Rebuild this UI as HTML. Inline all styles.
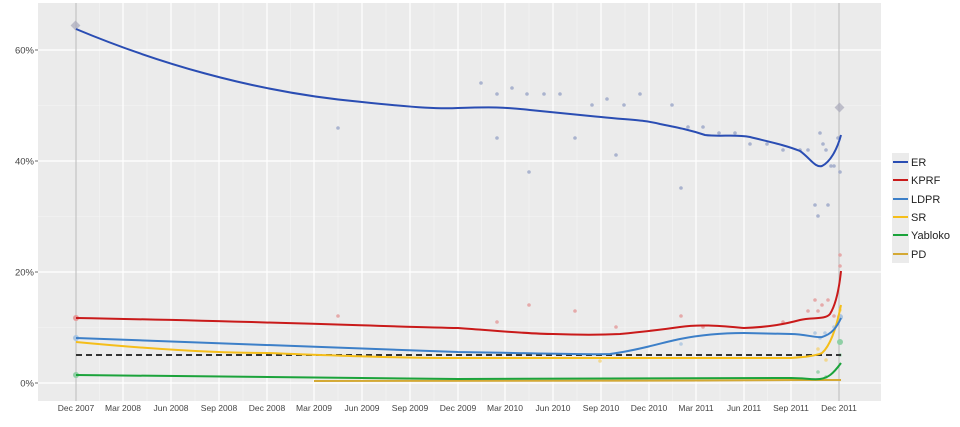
<!DOCTYPE html>
<html><head><meta charset="utf-8"><style>
body{margin:0;background:#fff;}
svg{display:block;font-family:"Liberation Sans",sans-serif;}
</style></head><body>
<svg width="960" height="427" viewBox="0 0 960 427">
<rect x="38" y="3" width="843" height="398" fill="#EBEBEB"/>
<g stroke="#F5F5F5" stroke-width="0.6">
<line x1="38" x2="881" y1="105.5" y2="105.5"/><line x1="38" x2="881" y1="216.5" y2="216.5"/><line x1="38" x2="881" y1="327.5" y2="327.5"/>
<line y1="3" y2="401" x1="99.5" x2="99.5"/><line y1="3" y2="401" x1="147" x2="147"/><line y1="3" y2="401" x1="195" x2="195"/><line y1="3" y2="401" x1="243" x2="243"/><line y1="3" y2="401" x1="290.5" x2="290.5"/><line y1="3" y2="401" x1="338" x2="338"/><line y1="3" y2="401" x1="386" x2="386"/><line y1="3" y2="401" x1="434" x2="434"/><line y1="3" y2="401" x1="481.5" x2="481.5"/><line y1="3" y2="401" x1="529" x2="529"/><line y1="3" y2="401" x1="577" x2="577"/><line y1="3" y2="401" x1="625" x2="625"/><line y1="3" y2="401" x1="672.5" x2="672.5"/><line y1="3" y2="401" x1="720" x2="720"/><line y1="3" y2="401" x1="767.5" x2="767.5"/><line y1="3" y2="401" x1="815" x2="815"/>
</g>
<g stroke="#fff" stroke-width="1.2">
<line x1="38" x2="881" y1="50" y2="50"/><line x1="38" x2="881" y1="161" y2="161"/><line x1="38" x2="881" y1="272" y2="272"/><line x1="38" x2="881" y1="383" y2="383"/>
<line y1="3" y2="401" x1="123" x2="123"/><line y1="3" y2="401" x1="171" x2="171"/><line y1="3" y2="401" x1="219" x2="219"/><line y1="3" y2="401" x1="267" x2="267"/><line y1="3" y2="401" x1="314" x2="314"/><line y1="3" y2="401" x1="362" x2="362"/><line y1="3" y2="401" x1="410" x2="410"/><line y1="3" y2="401" x1="458" x2="458"/><line y1="3" y2="401" x1="505" x2="505"/><line y1="3" y2="401" x1="553" x2="553"/><line y1="3" y2="401" x1="601" x2="601"/><line y1="3" y2="401" x1="649" x2="649"/><line y1="3" y2="401" x1="696" x2="696"/><line y1="3" y2="401" x1="744" x2="744"/><line y1="3" y2="401" x1="791" x2="791"/>
</g>
<line x1="76" x2="76" y1="3" y2="401" stroke="#bbb" stroke-width="1"/>
<line x1="839" x2="839" y1="3" y2="401" stroke="#bbb" stroke-width="1"/>
<g fill="#9aa6c8" opacity="0.8">
<circle cx="338" cy="128" r="1.8"/><circle cx="481" cy="83" r="1.8"/><circle cx="497" cy="94" r="1.8"/><circle cx="497" cy="138" r="1.8"/><circle cx="512" cy="88" r="1.8"/><circle cx="527" cy="94" r="1.8"/><circle cx="529" cy="172" r="1.8"/><circle cx="544" cy="94" r="1.8"/><circle cx="560" cy="94" r="1.8"/><circle cx="575" cy="138" r="1.8"/><circle cx="592" cy="105" r="1.8"/><circle cx="607" cy="99" r="1.8"/><circle cx="616" cy="155" r="1.8"/><circle cx="624" cy="105" r="1.8"/><circle cx="640" cy="94" r="1.8"/><circle cx="672" cy="105" r="1.8"/><circle cx="681" cy="188" r="1.8"/><circle cx="688" cy="127" r="1.8"/><circle cx="703" cy="127" r="1.8"/><circle cx="719" cy="133" r="1.8"/><circle cx="735" cy="133" r="1.8"/><circle cx="750" cy="144" r="1.8"/><circle cx="767" cy="144" r="1.8"/><circle cx="783" cy="150" r="1.8"/><circle cx="800" cy="150" r="1.8"/><circle cx="808" cy="150" r="1.8"/><circle cx="815" cy="205" r="1.8"/><circle cx="818" cy="216" r="1.8"/><circle cx="820" cy="133" r="1.8"/><circle cx="823" cy="144" r="1.8"/><circle cx="826" cy="150" r="1.8"/><circle cx="828" cy="205" r="1.8"/><circle cx="831" cy="166" r="1.8"/><circle cx="834" cy="166" r="1.8"/><circle cx="838" cy="138" r="1.8"/><circle cx="840" cy="172" r="1.8"/>
</g>
<g fill="#e49a9a" opacity="0.8">
<circle cx="338" cy="316" r="1.8"/><circle cx="497" cy="322" r="1.8"/><circle cx="529" cy="305" r="1.8"/><circle cx="575" cy="311" r="1.8"/><circle cx="616" cy="327" r="1.8"/><circle cx="681" cy="316" r="1.8"/><circle cx="703" cy="327" r="1.8"/><circle cx="783" cy="322" r="1.8"/><circle cx="808" cy="311" r="1.8"/><circle cx="815" cy="300" r="1.8"/><circle cx="818" cy="311" r="1.8"/><circle cx="822" cy="305" r="1.8"/><circle cx="828" cy="300" r="1.8"/><circle cx="834" cy="316" r="1.8"/><circle cx="840" cy="255" r="1.8"/><circle cx="840" cy="266" r="1.8"/>
</g>
<g fill="#a9c4e0" opacity="0.8"><circle cx="815" cy="333" r="1.8"/><circle cx="820" cy="338" r="1.8"/><circle cx="825" cy="333" r="1.8"/><circle cx="834" cy="327" r="1.8"/><circle cx="681" cy="344" r="1.8"/></g>
<g fill="#f3d37a" opacity="0.8"><circle cx="818" cy="349" r="1.8"/><circle cx="826" cy="360" r="1.8"/><circle cx="840" cy="310" r="1.8"/><circle cx="600" cy="361" r="1.8"/></g>
<g fill="#8fcfa5" opacity="0.8"><circle cx="818" cy="372" r="1.8"/><circle cx="826" cy="377" r="1.8"/><circle cx="840" cy="355" r="1.8"/></g>
<g fill="#aab" opacity="0.7">
<rect x="72" y="22" width="7" height="7" transform="rotate(45 75.5 25.5)"/>
<rect x="836" y="104" width="7" height="7" transform="rotate(45 839.5 107.5)"/>
</g>
<circle cx="76" cy="318" r="3" fill="#e49a9a"/><circle cx="76" cy="338" r="3" fill="#a9c4e0"/><circle cx="76" cy="375" r="3" fill="#8fcfa5"/>
<circle cx="840" cy="317" r="3" fill="#a9c4e0"/><circle cx="840" cy="342" r="3" fill="#8fcfa5"/>
<line x1="76" x2="841" y1="355" y2="355" stroke="#333" stroke-width="2" stroke-dasharray="6,4"/>
<g fill="none" stroke-width="2">
<path stroke="#D4A935" d="M314 381 L700 380.5 L800 380 L841 380"/>
<path stroke="#1BA33B" d="M76 375 C250 377 400 379 458 379 L791 378 C805 378 812 380 820 379 C828 378 833 374 841 363"/>
<path stroke="#F5BE1A" d="M76 342 C150 349 210 353 267 353 C350 356 400 358 458 358 L791 358 C805 357 815 356 822 353 C830 346 836 330 841 305"/>
<path stroke="#3C7FC8" d="M76 338 C250 344 400 351 458 352 C530 353 580 355 610 354 C640 350 660 343 680 339 C700 335 720 333 744 333 L791 334 C805 334 815 338 822 337 C832 334 837 327 841 318"/>
<path stroke="#C91A1A" d="M76 318 C250 321 400 327 458 328 C500 331 530 334 553 334 C580 335 600 335 620 334 C640 332 660 330 680 327 C700 324 720 326 744 328 C770 327 785 324 800 320 C812 317 825 320 830 314 C835 306 839 290 841 271"/>
<path stroke="#2A4DB3" d="M76 29 C150 60 250 92 362 102 C420 108 440 109 458 108 C490 107 505 107 530 110 C560 113 580 115 601 117 C630 120 645 120 660 124 C680 128 690 130 705 135 C720 137 735 134 750 137 C770 142 785 145 800 151 C810 158 815 168 822 166 C830 162 837 150 841 135"/>
</g>
<g fill="#444" font-size="9.5" text-anchor="end">
<text x="34" y="53.5">60%</text><text x="34" y="164.5">40%</text><text x="34" y="275.5">20%</text><text x="34" y="386.5">0%</text>
</g>
<g stroke="#444" stroke-width="0.8"><line x1="35" x2="38" y1="50" y2="50"/><line x1="35" x2="38" y1="161" y2="161"/><line x1="35" x2="38" y1="272" y2="272"/><line x1="35" x2="38" y1="383" y2="383"/></g>
<g fill="#444" font-size="8.5" text-anchor="middle">
<text x="76" y="411">Dec 2007</text><text x="123" y="411">Mar 2008</text><text x="171" y="411">Jun 2008</text><text x="219" y="411">Sep 2008</text><text x="267" y="411">Dec 2008</text><text x="314" y="411">Mar 2009</text><text x="362" y="411">Jun 2009</text><text x="410" y="411">Sep 2009</text><text x="458" y="411">Dec 2009</text><text x="505" y="411">Mar 2010</text><text x="553" y="411">Jun 2010</text><text x="601" y="411">Sep 2010</text><text x="649" y="411">Dec 2010</text><text x="696" y="411">Mar 2011</text><text x="744" y="411">Jun 2011</text><text x="791" y="411">Sep 2011</text><text x="839" y="411">Dec 2011</text>
</g>
<g>
<rect x="892" y="153" width="17" height="110" fill="#EBEBEB"/>
<g stroke-width="2">
<line x1="893" x2="908" y1="162" y2="162" stroke="#2A4DB3"/>
<line x1="893" x2="908" y1="180" y2="180" stroke="#C91A1A"/>
<line x1="893" x2="908" y1="199" y2="199" stroke="#3C7FC8"/>
<line x1="893" x2="908" y1="217" y2="217" stroke="#F5BE1A"/>
<line x1="893" x2="908" y1="235" y2="235" stroke="#1BA33B"/>
<line x1="893" x2="908" y1="254" y2="254" stroke="#D4A935"/>
</g>
<g fill="#222" font-size="11">
<text x="911" y="166">ER</text><text x="911" y="184">KPRF</text><text x="911" y="203">LDPR</text><text x="911" y="221">SR</text><text x="911" y="239">Yabloko</text><text x="911" y="258">PD</text>
</g>
</g>
</svg>
</body></html>
